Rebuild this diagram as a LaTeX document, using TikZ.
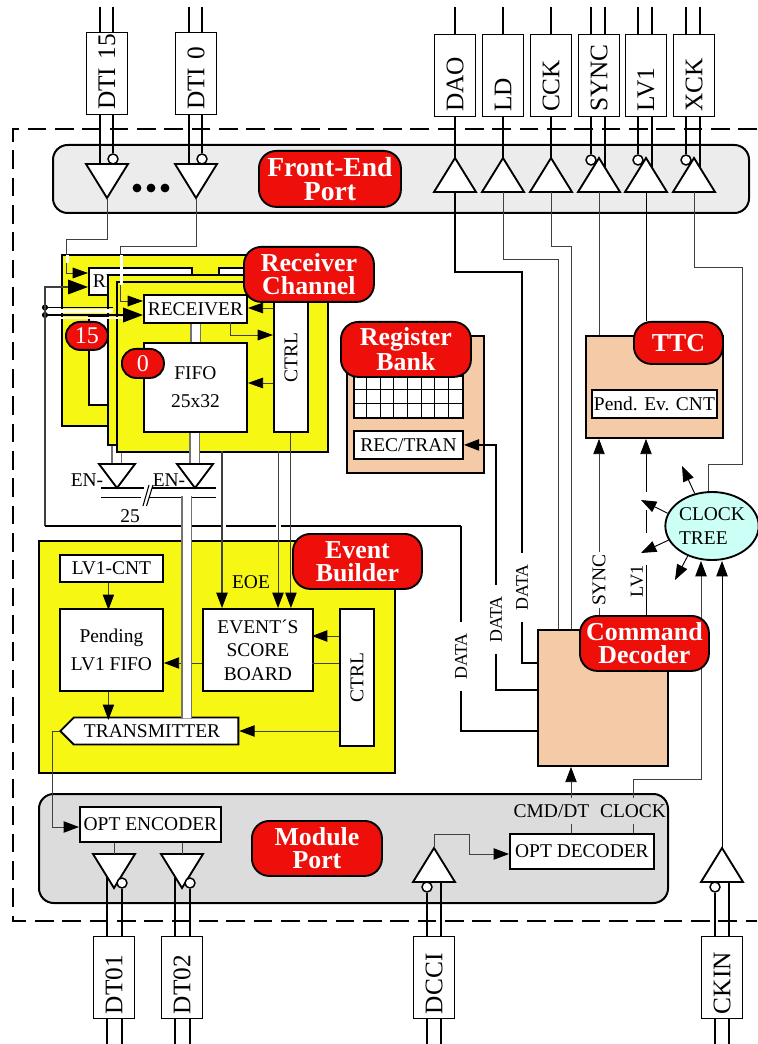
\documentclass[tikz,border=0pt]{standalone}
\usepackage{fontspec}
\setmainfont{Liberation Serif}
\usepackage{xcolor}
\usepackage{tikz}
\usetikzlibrary{arrows.meta}
\usetikzlibrary{positioning, shapes.geometric, shapes.symbols}

\definecolor{panelA}{HTML}{ECECEC}
\definecolor{panelB}{HTML}{DCDCDC}
\definecolor{labred}{HTML}{EE0E0A}
\definecolor{boardyel}{HTML}{F7F714}
\definecolor{peach}{HTML}{F5CBA7}
\definecolor{clockcy}{HTML}{CCFFF5}

\tikzset{
  wh/.style 2 args={minimum width=#1*0.75pt, minimum height=#2*0.75pt},
  txt/.style={font=\fontsize{14.6}{21}\selectfont, inner sep=0pt},
  smalltxt/.style={font=\fontsize{13.4}{16}\selectfont},
  panel/.style={draw, line width=1.5pt, rounded corners=11pt, inner sep=0pt, anchor=north west},
  board/.style={draw, line width=1.4pt, fill=boardyel, inner sep=0pt, anchor=north west},
  peachbox/.style={draw, line width=1.4pt, fill=peach, inner sep=0pt, anchor=north west},
  wbox/.style={draw, line width=1.4pt, fill=white, inner sep=0pt, anchor=north west, align=center,
    font=\fontsize{14.6}{17.6}\selectfont},
  redlab/.style={draw, line width=1.4pt, fill=labred, text=white, inner sep=0pt, anchor=north west,
    rounded corners=13pt, align=center, font=\fontsize{19.4}{17.5}\selectfont\bfseries},
  pill/.style={draw, line width=1.4pt, fill=labred, text=white, inner sep=0pt, anchor=north west,
    rounded corners=10.5pt, font=\fontsize{18}{20}\selectfont},
  pinbox/.style={draw, line width=.7pt, fill=white, rotate=90, inner xsep=3pt, inner ysep=0pt,
    text width=55.5pt, minimum height=31pt, align=left, font=\fontsize{19}{21}\selectfont},
  pinw/.style={line width=1.3pt},
  wire/.style={line width=.7pt, black!75},
  thk/.style={line width=1.2pt},
  arr/.style={-{Triangle[length=11.5pt,width=8.5pt,color=black]}},
  bigarr/.style={-{Triangle[length=15pt,width=11pt,color=black]}},
  midarr/.style={-{Triangle[length=11.5pt,width=8pt,color=black]}},
  vlab/.style={rotate=90, fill=white, inner ysep=0pt, inner xsep=1pt},
  busfill/.style={fill=white, inner sep=0pt, anchor=north west},
  busline/.style={line width=1pt, black!55},
  drvtri/.style={draw, fill=white, line width=1.4pt},
  bubble/.style={circle, draw, fill=white, inner sep=0pt, minimum size=7.5pt, line width=1.1pt},
  dnone/.pic={\draw[drvtri] (-21,0) -- (21,0) -- (0,34) -- cycle;
    \coordinate (-base) at (0,0); \coordinate (-apex) at (0,34);},
  upone/.pic={\draw[drvtri] (-21,0) -- (21,0) -- (0,-34) -- cycle;
    \coordinate (-base) at (0,0); \coordinate (-apex) at (0,-34);},
  dnin/.pic={\draw[drvtri] (-21,0) -- (21,0) -- (0,34) -- cycle;
    \coordinate (-apex) at (0,34); \coordinate (-p) at (-7,0);
    \node[bubble] (-n) at (6,-5) {};},
  upin/.pic={\draw[drvtri] (-21,0) -- (21,0) -- (0,-34) -- cycle;
    \coordinate (-base) at (0,0); \coordinate (-p) at (6,-24);
    \node[bubble] (-n) at (-8,-32) {};},
  dnout/.pic={\draw[drvtri] (-21,0) -- (21,0) -- (0,34) -- cycle;
    \coordinate (-base) at (0,0); \coordinate (-p) at (-7,23);
    \node[bubble] (-n) at (8,29) {};},
  upckin/.pic={\draw[drvtri] (-21,0) -- (21,0) -- (0,-34) -- cycle;
    \coordinate (-apex) at (0,-34); \coordinate (-p) at (7,0);
    \node[bubble] (-n) at (-7,5) {};},
  entri/.pic={\draw[drvtri] (-18,0) -- (18,0) -- (0,24) -- cycle;
    \coordinate (-base) at (0,0); \coordinate (-apex) at (0,24);},
}
\newcommand{\busbar}[5]{\node[busfill, wh={#4}{#5}] (#1) at (#2,#3) {};
  \draw[busline] (#1.north west) -- (#1.south west) (#1.north east) -- (#1.south east);}

\begin{document}
\begin{tikzpicture}[x=0.75pt, y=-0.75pt]
\useasboundingbox (0,0) rectangle (757,1044);
\coordinate (topedge) at (0,7);
\coordinate (botedge) at (0,1044);

\draw[line width=1.5pt, dash pattern=on 14pt off 6.5pt] (757,129) -- (13,129) -- (13,921) -- (757,921);

\node[panel, fill=panelA, wh={696}{68}] (feport) at (52,144) {};
\node[panel, fill=panelB, wh={629}{109}] (modport) at (38,793) {};

% input and output drivers
\pic (dti15) at (107,164) {dnin};
\pic (dti0) at (196,164) {dnin};
\pic (dao) at (455,192) {upone};
\pic (ld) at (503,192) {upone};
\pic (cck) at (551,192) {upone};
\pic (sync) at (599,192) {upin};
\pic (lvone) at (646,192) {upin};
\pic (xck) at (694,192) {upin};
\pic (dtoa) at (114,854) {dnout};
\pic (dtob) at (182,854) {dnout};
\pic (dcci) at (434,882) {upckin};
\pic (ckin) at (722,882) {upckin};
\node[circle, fill, inner sep=0pt, minimum size=6.6pt] (dota) at (137,188) {};
\node[circle, fill, inner sep=0pt, minimum size=6.6pt] (dotb) at (151,188) {};
\node[circle, fill, inner sep=0pt, minimum size=6.6pt] (dotc) at (165,188) {};

\draw[pinw] (dti15-p |- topedge) -- (dti15-p) (dti15-n |- topedge) -- (dti15-n.north);
\draw[pinw] (dti0-p |- topedge) -- (dti0-p) (dti0-n |- topedge) -- (dti0-n.north);
\draw[pinw] (dao-apex |- topedge) -- (dao-apex);
\draw[pinw] (ld-apex |- topedge) -- (ld-apex);
\draw[pinw] (cck-apex |- topedge) -- (cck-apex);
\draw[pinw] (sync-p |- topedge) -- (sync-p) (sync-n |- topedge) -- (sync-n.north);
\draw[pinw] (lvone-p |- topedge) -- (lvone-p) (lvone-n |- topedge) -- (lvone-n.north);
\draw[pinw] (xck-p |- topedge) -- (xck-p) (xck-n |- topedge) -- (xck-n.north);
\draw[pinw] (dtoa-p |- botedge) -- (dtoa-p) (dtoa-n |- botedge) -- (dtoa-n.south);
\draw[pinw] (dtob-p |- botedge) -- (dtob-p) (dtob-n |- botedge) -- (dtob-n.south);
\draw[pinw] (dcci-p |- botedge) -- (dcci-p) (dcci-n |- botedge) -- (dcci-n.south);
\draw[pinw] (ckin-p |- botedge) -- (ckin-p) (ckin-n |- botedge) -- (ckin-n.south);

\node[pinbox] (pindtia) at (107,73) {\mbox{DTI 15}};
\node[pinbox] (pindtib) at (196,73) {DTI 0};
\node[pinbox] (pindao) at (455,75) {DAO};
\node[pinbox] (pinld) at (503,75) {LD};
\node[pinbox] (pincck) at (551,75) {CCK};
\node[pinbox] (pinsync) at (599,75) {SYNC};
\node[pinbox] (pinlv) at (646,75) {LV1};
\node[pinbox] (pinxck) at (694,75) {XCK};
\node[pinbox] (pindta) at (114,977) {DT01};
\node[pinbox] (pindtb) at (182,977) {DT02};
\node[pinbox] (pindcci) at (434,977) {DCCI};
\node[pinbox] (pinckin) at (722,977) {CKIN};

% receiver channels, back to front
\busbar{backbus}{112}{440}{9}{24}
\node[board, wh={211}{171}] (boardc) at (61,254) {};
\node[wbox, wh={103}{27}] (rcvback) at (88,267) {RECEIVER};
\node[wbox, wh={34}{40}] (ctrlback) at (218,267) {};
\node[wbox, wh={103}{89}] (fifoback) at (88,315) {};
\node[pill, wh={42}{28}] (chan15) at (65,321) {15};
\node[board, wh={215}{170}] (boardb) at (107,274) {};
\node[board, wh={211}{170}] (boarda) at (116,281) {};
\busbar{rfbus}{191}{320}{9}{24}
\busbar{fifobus}{190}{430}{9}{34}
\node[wbox, wh={103}{28}] (receiver) at (143,294) {RECEIVER};
\node[wbox, wh={103}{89}, font=\fontsize{14.6}{21}\selectfont] (fifo) at (143,342) {FIFO\\25x32};
\node[wbox, wh={34}{149}] (ctrlrc) at (273,282) {\rotatebox{90}{CTRL}};
\node[pill, wh={42}{29}] (chan0) at (121,348) {0};

\pic (enb) at (117,464) {entri};
\pic (ena) at (195,464) {entri};
\node[txt] (enbt) at (87,480) {EN-};
\node[txt] (enat) at (169,480) {EN-};
\draw[line width=.8pt] (101,488) -- (144,488) (152,488) -- (216,488);
\draw[line width=.8pt] (101,497.5) -- (141,497.5) (149,497.5) -- (216,497.5);
\draw[line width=.8pt] (143,506) -- (149,485) (146.5,506) -- (153,485);
\node[txt] (buswidth) at (130,516) {25};

% event builder
\node[board, wh={356}{232}] (boardeb) at (38,540) {};
\node[wbox, wh={103}{27}] (lvcnt) at (59,554) {LV1-CNT};
\node[wbox, wh={103}{82}, font=\fontsize{14.6}{21}\selectfont] (pending) at (59,608) {Pending\\LV1 FIFO};
\node[wbox, wh={110}{82}] (score) at (202,608) {EVENT´S\\SCORE\\BOARD};
\node[wbox, wh={34}{137}] (ctrleb) at (339,608) {\rotatebox{90}{CTRL}};
\node[draw, line width=1.4pt, fill=white, inner sep=0pt, signal, signal to=west, signal pointer angle=90,
  wh={178}{27}, txt, anchor=west] (tx) at (59,731) {\hspace{-6pt}TRANSMITTER};

% register bank and ttc
\node[peachbox, wh={137}{137}] (regbank) at (346,335) {};
\node[wbox, wh={109}{42}] (reggrid) at (353,375) {};
\foreach \gx in {1,...,7} \draw[line width=.6pt] (353+13.625*\gx,375) -- (353+13.625*\gx,417);
\foreach \gy in {1,2} \draw[line width=.6pt] (353,375+14*\gy) -- (462,375+14*\gy);
\node[wbox, wh={109}{28}] (rectran) at (353,430) {REC/TRAN};
\node[peachbox, wh={137}{102}] (ttc) at (585,335) {};
\node[wbox, wh={125}{28}] (pendcnt) at (591,389) {Pend. Ev. CNT};
\node[peachbox, wh={130}{136}] (decoder) at (537,629) {};
\node[draw, line width=1.4pt, fill=clockcy, ellipse, inner sep=0pt, wh={89}{68}, align=left,
  font=\fontsize{14.6}{18.4}\selectfont] (clock) at (712,526) {CLOCK\\TREE};

% module port
\node[wbox, wh={141}{35}] (optenc) at (79,806) {OPT ENCODER};
\node[wbox, wh={144}{35}] (optdec) at (509,833) {OPT DECODER};
\node[txt, wh={77}{26}] (cmdlab) at (551.5,811) {CMD/DT};
\node[txt, wh={66}{26}] (clocklab) at (633,811) {CLOCK};

% wires
\coordinate (inback) at (88,273);
\coordinate (infront) at (143,301);
\coordinate (turnback) at (66,239);
\coordinate (turnfront) at (120,246);
\draw[wire, midarr] (dti15-apex) |- (turnback) |- (inback);
\draw[wire, midarr] (dti0-apex) |- (turnfront) |- (infront);
\draw[white, line width=1.6pt] (67.5,255) -- (67.5,263);
\draw[white, line width=1.6pt] (121.5,255) -- (121.5,285);

\coordinate (dotx) at (45,526);
\coordinate (datacorner) at (461,526);
\node[circle, fill, inner sep=0pt, minimum size=4.6pt] (joina) at (45,307.5) {};
\node[circle, fill, inner sep=0pt, minimum size=4.6pt] (joinb) at (45,315) {};
\coordinate (inbackb) at (88,287);
\coordinate (infrontb) at (143,315);
\draw[white, line width=3pt] (47,311.5) -- (113,311.5);
\draw[white, line width=1.6pt] (47,318) -- (125,318);
\draw[thk] (joina) -- (joina -| boardb.west) -- (113,307.5);
\draw[thk, bigarr] (joinb) -- (infrontb);
\draw[wire, line width=.9pt, bigarr] (dotx) |- (inbackb);

\coordinate (ctrlin) at (273,308);
\coordinate (rcvout) at (230,322);
\coordinate (ctrltop) at (273,335);
\coordinate (ctrlfifo) at (273,383);
\draw[wire, midarr] (ctrlin) -- (ctrlin -| receiver.east);
\draw[wire, midarr] (rcvout) |- (ctrltop);
\draw[wire, midarr] (ctrlfifo) -- (ctrlfifo -| fifo.east);

\coordinate (eoetop) at (222,451);
\coordinate (wrtop) at (278,451);
\draw[thk] (dotx) -- (221,526) (226,526) -- (276,526) (281,526) -- (datacorner);
\draw[wire, line width=.9pt, arr] (eoetop) -- (eoetop |- score.north);
\draw[wire, arr] (wrtop) -- (wrtop |- score.north);
\draw[wire, arr] (ctrlrc.south) -- (ctrlrc.south |- score.north);
\node[txt] (eoe) at (251,582) {EOE};

\coordinate (sba) at (312,636);
\coordinate (sbb) at (312,663);
\coordinate (sbc) at (202,663);
\coordinate (txin) at (339,731);
\draw[wire, arr] (ctrleb.west |- sba) -- (sba);
\draw[wire] (ctrleb.west |- sbb) -- (sbb);
\draw[wire, arr] (sbc) -- (sbc -| pending.east);
\draw[wire, arr] (txin) -- (txin -| tx.east);
\draw[wire, arr] (lvcnt.south) ++(-3,0) -- ++(0,27);
\draw[wire, arr] (pending.south) ++(-3,0) -- ++(0,28);
\busbar{txbus}{182}{496}{9}{222}

\coordinate (txturn) at (52,827);
\draw[wire, arr] (tx.west) -| (txturn) -- (txturn -| optenc.west);
\draw[wire] (dtoa-base |- optenc.south) -- (dtoa-base);
\draw[wire] (dtob-base |- optenc.south) -- (dtob-base);

\node[vlab, smalltxt, minimum width=52pt, inner xsep=0pt] (dataa) at (461,656.5) {DATA};
\node[vlab, smalltxt, minimum width=52pt, inner xsep=0pt] (datab) at (496,619.5) {DATA};
\node[vlab, smalltxt, minimum width=52pt, inner xsep=0pt] (datac) at (522,587.5) {DATA};
\node[vlab, txt, inner xsep=1pt] (synclab) at (599,580) {SYNC};
\node[rotate=90, inner sep=0pt, font=\fontsize{13.8}{16}\selectfont] (lvlab) at (637,581) {LV1};

\coordinate (daoturn) at (522,272);
\coordinate (ldturn) at (558,259);
\coordinate (cckturn) at (571,246);
\coordinate (xckturn) at (742,267);
\coordinate (xckback) at (708,464);
\draw[thk] (dao-base) |- (daoturn) -- (datac.east);
\draw[wire] (ld-base) |- (ldturn) -- (ldturn |- decoder.north);
\draw[wire] (cck-base) |- (cckturn) -- (cckturn |- decoder.north);
\draw[wire] (sync-base) -- (sync-base |- ttc.north);
\draw[wire, black] (lvone-base) -- (lvone-base |- 0,321);
\draw[wire] (xck-base) |- (xckturn) |- (xckback) -- (xckback |- clock.north);

\coordinate (dcin) at (537,663);
\coordinate (dbin) at (537,690);
\coordinate (dain) at (537,731);
\draw[thk] (datacorner) -- (dataa.east);
\draw[thk] (dataa.west) |- (dain);
\draw[thk] (datab.west) |- (dbin);
\draw[thk] (datac.west) |- (dcin);
\draw[thk, arr] (datab.east) |- (rectran.east);

\draw[wire, arr] (synclab.east) -- (synclab.east |- ttc.south);
\draw[wire] (synclab.west) -- (synclab.west |- decoder.north);
\draw[wire, black] (lvone-base |- lvlab.east) -- (lvone-base |- decoder.north);
\draw[wire, black] (lvone-base |- 0,533) -- (lvone-base |- 0,510);
\draw[wire, black, arr] (lvone-base |- 0,492) -- (lvone-base |- ttc.south);

\coordinate (tipa) at (682,466);
\coordinate (tipb) at (641,500);
\coordinate (tipc) at (641,553);
\coordinate (tipd) at (675,580);
\draw[wire, black, arr] (clock.118) -- (tipa);
\draw[wire, black, arr] (clock.164) -- (tipb);
\draw[wire, black, arr] (clock.198) -- (tipc);
\draw[wire, black, arr] (clock.231) -- (tipd);

\coordinate (cmdx) at (571,833);
\coordinate (clkturn) at (701,779);
\draw[wire] (cmdx) -- (cmdx |- cmdlab.south);
\draw[wire, arr] (cmdx |- cmdlab.north) -- (cmdx |- decoder.south);
\draw[wire] (clocklab.south) -- (clocklab.south |- optdec.north);
\draw[wire, arr] (clocklab.north) |- (clkturn) -- (clkturn |- clock.south);
\draw[wire, black, arr] (ckin-apex) -- (ckin-apex |- clock.south);

\coordinate (dcturn) at (469,834);
\coordinate (decin) at (509,854);
\draw[wire, arr] (dcci-apex) |- (dcturn) |- (decin);

% red labels
\node[redlab, wh={142}{56}, font=\fontsize{20.7}{17.5}\selectfont\bfseries] (labfe) at (258,150) {Front-End\\Port};
\node[redlab, wh={130}{55}] (labrc) at (243,246) {Receiver\\Channel};
\node[redlab, wh={130}{55}] (labrb) at (340,321) {Register\\Bank};
\node[redlab, wh={89}{42}] (labttc) at (633,321) {TTC};
\node[redlab, wh={129}{55}] (labeb) at (292,533) {Event\\Builder};
\node[redlab, wh={129}{55}] (labcd) at (579,615) {Command\\Decoder};
\node[redlab, wh={130}{55}] (labmp) at (251,820) {Module\\Port};
\end{tikzpicture}
\end{document}
